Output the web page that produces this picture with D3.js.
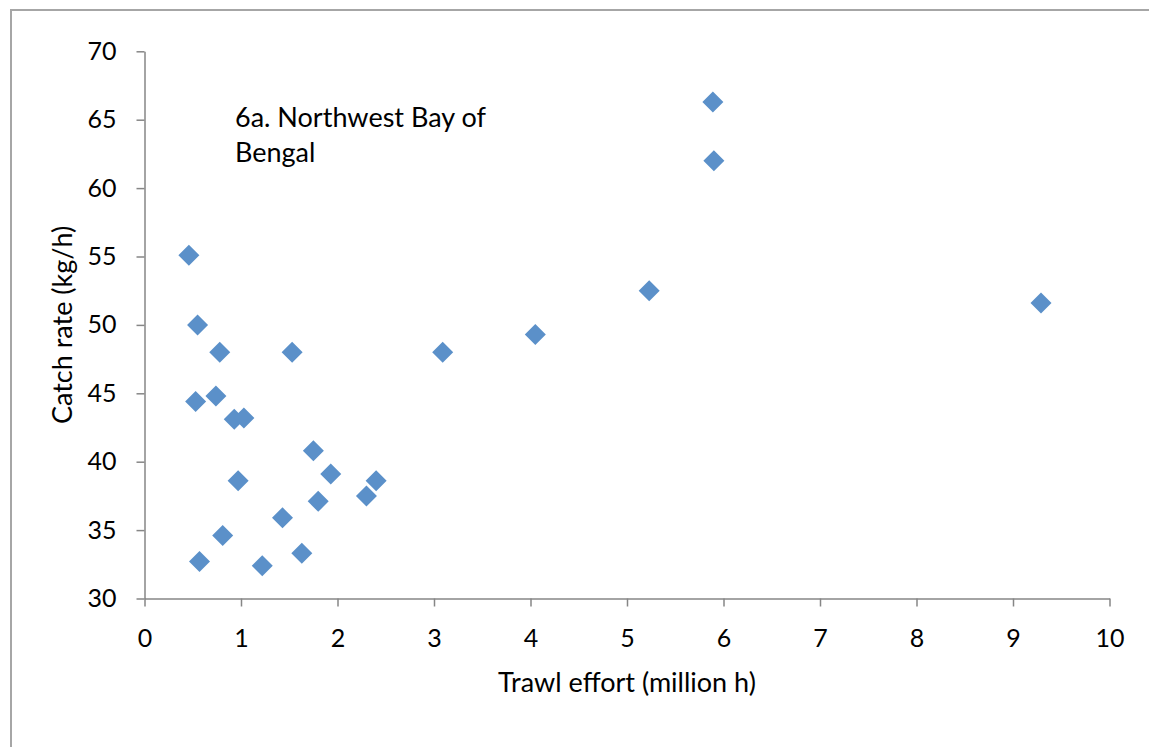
<!DOCTYPE html>
<html>
<head>
<meta charset="utf-8">
<script src="https://cdn.jsdelivr.net/npm/d3@7"></script>
<style>
  html, body { margin: 0; padding: 0; background: #fff; }
  svg { display: block; }
  text { font-family: Lato, "Open Sans", sans-serif; fill: #000; }
</style>
</head>
<body>
<svg id="chart" width="1149" height="747"></svg>
<script>
// Data
const effort = [0.46, 0.55, 0.78, 1.53, 0.53, 0.74, 0.93, 1.03, 1.75, 0.97, 1.93, 2.40, 2.30, 1.80, 1.43, 0.81, 0.57, 1.22, 1.63, 3.09, 4.05, 5.23, 5.89, 5.90, 9.29];
const catchRate = [55.1, 50.0, 48.0, 48.0, 44.4, 44.8, 43.1, 43.2, 40.8, 38.6, 39.1, 38.6, 37.5, 37.1, 35.9, 34.6, 32.7, 32.4, 33.3, 48.0, 49.3, 52.5, 66.3, 62.0, 51.6];
const xTicks = [0, 1, 2, 3, 4, 5, 6, 7, 8, 9, 10];
const yTicks = [30, 35, 40, 45, 50, 55, 60, 65, 70];
const xLabel = "Trawl effort (million h)";
const yLabel = "Catch rate (kg/h)";
const annotation = ["6a. Northwest Bay of", "Bengal"];

const points = effort.map((e, i) => ({ x: e, y: catchRate[i] }));

const svg = d3.select("#chart");
const axisColor = "#868686";
const markerColor = "#5b90c9";
const tickFont = 25;
const labelFont = 27;

// chart border
svg.append("rect")
  .attr("x", 11).attr("y", 10)
  .attr("width", 1300).attr("height", 900)
  .attr("fill", "none")
  .attr("stroke", "#a6a6a6")
  .attr("stroke-width", 2);

const x = d3.scaleLinear().domain([0, 10]).range([144.5, 1109.5]);
const y = d3.scaleLinear().domain([30, 70]).range([598.5, 51.3]);

// Y axis
const gy = svg.append("g")
  .attr("transform", `translate(${x(0)},0)`)
  .call(d3.axisLeft(y).tickValues(yTicks).tickSize(8).tickSizeOuter(0).tickPadding(20).tickFormat(d3.format("d")));
// X axis
const gx = svg.append("g")
  .attr("transform", `translate(0,${y(30)})`)
  .call(d3.axisBottom(x).tickValues(xTicks).tickSize(8).tickSizeOuter(0).tickPadding(23).tickFormat(d3.format("d")));

[gx, gy].forEach(g => {
  g.select(".domain").attr("stroke", axisColor).attr("stroke-width", 1.5);
  g.selectAll(".tick line").attr("stroke", axisColor).attr("stroke-width", 1.5);
  g.selectAll(".tick text")
    .attr("fill", "#000")
    .style("font-family", "Lato, 'Open Sans', sans-serif")
    .style("font-size", tickFont + "px");
});

// markers (diamonds)
const r = 10.5;
const diamond = `M0,${-r}L${r},0L0,${r}L${-r},0Z`;
svg.append("g")
  .selectAll("path")
  .data(points)
  .join("path")
  .attr("d", diamond)
  .attr("transform", d => `translate(${x(d.x)},${y(d.y)})`)
  .attr("fill", markerColor);

// axis titles
svg.append("text")
  .attr("x", (x(0) + x(10)) / 2)
  .attr("y", 692)
  .attr("text-anchor", "middle")
  .style("font-size", labelFont + "px")
  .text(xLabel);

svg.append("text")
  .attr("transform", `translate(72,${(y(30) + y(70)) / 2}) rotate(-90)`)
  .attr("text-anchor", "middle")
  .style("font-size", labelFont + "px")
  .text(yLabel);

// annotation
const ann = svg.append("text")
  .attr("x", 235)
  .attr("y", 127)
  .style("font-size", labelFont + "px");
ann.selectAll("tspan")
  .data(annotation)
  .join("tspan")
  .attr("x", 235)
  .attr("dy", (d, i) => i === 0 ? 0 : 34.5)
  .text(d => d);
</script>
</body>
</html>
